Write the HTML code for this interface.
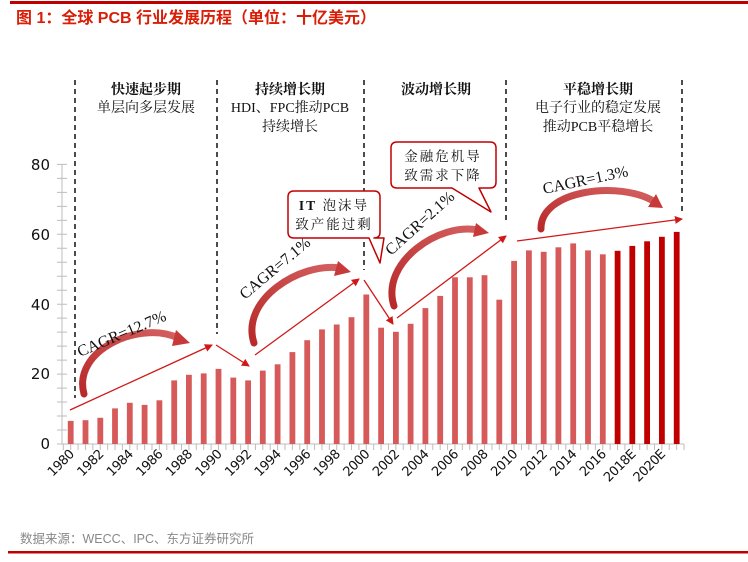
<!DOCTYPE html>
<html><head><meta charset="utf-8"><style>
body{margin:0;background:#fff;}
svg{display:block;}
</style></head><body>
<svg width="748" height="562" viewBox="0 0 748 562" xmlns="http://www.w3.org/2000/svg">
<defs>
<marker id="ah" markerWidth="8" markerHeight="8" refX="7" refY="4" orient="auto" markerUnits="userSpaceOnUse">
<path d="M0,0 L8,4 L0,8 z" fill="#d01818"/>
</marker>
<linearGradient id="cg" x1="0" y1="1" x2="1" y2="0">
<stop offset="0" stop-color="#b82a2a"/><stop offset="1" stop-color="#d46060"/>
</linearGradient>
</defs>
<rect x="10" y="1" width="738" height="3" fill="#c00000"/>
<text x="16" y="23" font-family="Liberation Sans, Noto Sans CJK SC, sans-serif" font-size="16" font-weight="bold" fill="#d81e06">图 1：全球 PCB 行业发展历程（单位：十亿美元）</text>

<g font-family="Liberation Serif, Noto Serif CJK SC, serif" font-size="14" fill="#111" text-anchor="middle">
<text x="146" y="94" font-weight="bold">快速起步期</text>
<text x="146" y="112">单层向多层发展</text>
<text x="290" y="94" font-weight="bold">持续增长期</text>
<text x="290" y="112">HDI、FPC推动PCB</text>
<text x="290" y="131">持续增长</text>
<text x="436" y="94" font-weight="bold">波动增长期</text>
<text x="598" y="94" font-weight="bold">平稳增长期</text>
<text x="598" y="112">电子行业的稳定发展</text>
<text x="598" y="131">推动PCB平稳增长</text>
</g>

<g stroke="#111" stroke-width="1.5" stroke-dasharray="5,4">
<line x1="75" y1="80" x2="75" y2="398"/>
<line x1="217" y1="80" x2="217" y2="334"/>
<line x1="364" y1="80" x2="364" y2="270"/>
<line x1="506" y1="80" x2="506" y2="224"/>
<line x1="682" y1="80" x2="682" y2="213"/>
</g>

<!-- axes -->
<g stroke="#bdbdbd" stroke-width="1" fill="none">
<line x1="62" y1="164" x2="62" y2="444"/>
<line x1="62" y1="444" x2="684" y2="444"/>
<line x1="62" y1="444.5" x2="62" y2="160" stroke-width="10" stroke-dasharray="1 12.98"/>
<line x1="62.8" y1="447" x2="685" y2="447" stroke-width="6" stroke-dasharray="1 6.39"/>
</g>
<g font-family="DejaVu Sans, sans-serif" font-size="15" fill="#111" text-anchor="end">
<text x="50" y="449">0</text><text x="50" y="379">20</text><text x="50" y="310">40</text><text x="50" y="240">60</text><text x="50" y="170">80</text>
</g>
<g fill="#d65a5a">
<rect x="67.8" y="420.9" width="5.8" height="23.1"/>
<rect x="82.6" y="420.2" width="5.8" height="23.8"/>
<rect x="97.4" y="417.8" width="5.8" height="26.2"/>
<rect x="112.1" y="408.4" width="5.8" height="35.6"/>
<rect x="126.9" y="402.8" width="5.8" height="41.2"/>
<rect x="141.7" y="404.9" width="5.8" height="39.1"/>
<rect x="156.5" y="400.3" width="5.8" height="43.7"/>
<rect x="171.3" y="380.4" width="5.8" height="63.6"/>
<rect x="186.0" y="374.8" width="5.8" height="69.2"/>
<rect x="200.8" y="373.4" width="5.8" height="70.6"/>
<rect x="215.6" y="368.9" width="5.8" height="75.1"/>
<rect x="230.4" y="377.6" width="5.8" height="66.4"/>
<rect x="245.2" y="380.4" width="5.8" height="63.6"/>
<rect x="259.9" y="370.6" width="5.8" height="73.4"/>
<rect x="274.7" y="364.3" width="5.8" height="79.7"/>
<rect x="289.5" y="352.1" width="5.8" height="91.9"/>
<rect x="304.3" y="340.2" width="5.8" height="103.8"/>
<rect x="319.1" y="329.4" width="5.8" height="114.6"/>
<rect x="333.8" y="324.5" width="5.8" height="119.5"/>
<rect x="348.6" y="317.2" width="5.8" height="126.8"/>
<rect x="363.4" y="294.5" width="5.8" height="149.5"/>
<rect x="378.2" y="327.7" width="5.8" height="116.3"/>
<rect x="393.0" y="331.8" width="5.8" height="112.2"/>
<rect x="407.7" y="323.8" width="5.8" height="120.2"/>
<rect x="422.5" y="308.1" width="5.8" height="135.9"/>
<rect x="437.3" y="295.9" width="5.8" height="148.1"/>
<rect x="452.1" y="277.3" width="5.8" height="166.7"/>
<rect x="466.9" y="277.3" width="5.8" height="166.7"/>
<rect x="481.6" y="275.2" width="5.8" height="168.8"/>
<rect x="496.4" y="299.7" width="5.8" height="144.3"/>
<rect x="511.2" y="260.9" width="5.8" height="183.1"/>
<rect x="526.0" y="250.4" width="5.8" height="193.6"/>
<rect x="540.8" y="251.8" width="5.8" height="192.2"/>
<rect x="555.5" y="247.3" width="5.8" height="196.7"/>
<rect x="570.3" y="243.4" width="5.8" height="200.6"/>
<rect x="585.1" y="250.4" width="5.8" height="193.6"/>
<rect x="599.9" y="254.3" width="5.8" height="189.7"/>
</g>
<g fill="#c00000">
<rect x="614.7" y="250.8" width="5.8" height="193.2"/>
<rect x="629.4" y="245.9" width="5.8" height="198.1"/>
<rect x="644.2" y="241.3" width="5.8" height="202.7"/>
<rect x="659.0" y="236.8" width="5.8" height="207.2"/>
<rect x="673.8" y="231.9" width="5.8" height="212.1"/>
</g>
<g font-family="DejaVu Sans, sans-serif" font-size="13" fill="#111" text-anchor="end" letter-spacing="-0.5">
<text transform="translate(74.7,455) rotate(-45)">1980</text>
<text transform="translate(104.3,455) rotate(-45)">1982</text>
<text transform="translate(133.8,455) rotate(-45)">1984</text>
<text transform="translate(163.4,455) rotate(-45)">1986</text>
<text transform="translate(192.9,455) rotate(-45)">1988</text>
<text transform="translate(222.5,455) rotate(-45)">1990</text>
<text transform="translate(252.1,455) rotate(-45)">1992</text>
<text transform="translate(281.6,455) rotate(-45)">1994</text>
<text transform="translate(311.2,455) rotate(-45)">1996</text>
<text transform="translate(340.7,455) rotate(-45)">1998</text>
<text transform="translate(370.3,455) rotate(-45)">2000</text>
<text transform="translate(399.9,455) rotate(-45)">2002</text>
<text transform="translate(429.4,455) rotate(-45)">2004</text>
<text transform="translate(459.0,455) rotate(-45)">2006</text>
<text transform="translate(488.5,455) rotate(-45)">2008</text>
<text transform="translate(518.1,455) rotate(-45)">2010</text>
<text transform="translate(547.7,455) rotate(-45)">2012</text>
<text transform="translate(577.2,455) rotate(-45)">2014</text>
<text transform="translate(606.8,455) rotate(-45)">2016</text>
<text transform="translate(636.3,455) rotate(-45)">2018E</text>
<text transform="translate(665.9,455) rotate(-45)">2020E</text>
</g>

<!-- straight arrows -->
<g stroke="#d01818" stroke-width="1.3" fill="none" marker-end="url(#ah)">
<line x1="70" y1="410" x2="212" y2="345"/>
<line x1="216" y1="345" x2="249" y2="366"/>
<line x1="255" y1="355" x2="359" y2="279"/>
<line x1="364" y1="280" x2="393" y2="324"/>
<line x1="397" y1="318" x2="506" y2="236"/>
<line x1="517" y1="241" x2="682" y2="219"/>
</g>

<!-- curved arrows -->
<g fill="none" stroke="url(#cg)" stroke-width="7" stroke-linecap="round">
<path d="M84,394 C72,350 140,320 178,338"/>
<path d="M254,343 C240,300 300,262 340,268"/>
<path d="M394,306 C380,262 440,222 478,230"/>
<path d="M541,229 C540,190 620,180 655,202"/>
</g>
<g fill="#c83a3a">
<path d="M176,330 L190,343 L172,346 z"/>
<path d="M338,261 L351,272 L334,276 z"/>
<path d="M476,223 L489,233 L473,237 z"/>
<path d="M656,194 L663,208 L648,207 z"/>
</g>

<g font-family="Liberation Serif, serif" font-size="16" fill="#111">
<text transform="translate(80,357) rotate(-23)">CAGR=12.7%</text>
<text transform="translate(245,300) rotate(-40)">CAGR=7.1%</text>
<text transform="translate(391,256) rotate(-42)">CAGR=2.1%</text>
<text transform="translate(544,194) rotate(-12)">CAGR=1.3%</text>
</g>

<!-- callouts -->
<g fill="#fff" stroke="#c00000" stroke-width="1.5" stroke-linejoin="round">
<path d="M294,191 H374 Q380,191 380,197 V232 Q380,238 374,238 H384 L380,263 L369,238 H294 Q288,238 288,232 V197 Q288,191 294,191 Z"/>
<path d="M397,142 H490 Q496,142 496,148 V182 Q496,188 490,188 H479 L491,212 L452,188 H397 Q391,188 391,182 V148 Q391,142 397,142 Z"/>
</g>
<g font-family="Liberation Serif, Noto Serif CJK SC, serif" font-size="13.5" fill="#111" text-anchor="middle" letter-spacing="2">
<text x="334" y="210"><tspan font-weight="bold">IT</tspan> 泡沫导</text>
<text x="334" y="229">致产能过剩</text>
<text x="443" y="161">金融危机导</text>
<text x="443" y="180">致需求下降</text>
</g>

<text x="20" y="543" font-family="Liberation Sans, Noto Sans CJK SC, sans-serif" font-size="12.5" fill="#888">数据来源：WECC、IPC、东方证券研究所</text>
<rect x="8" y="551" width="740" height="2.5" fill="#c00000"/>
</svg>
</body></html>
